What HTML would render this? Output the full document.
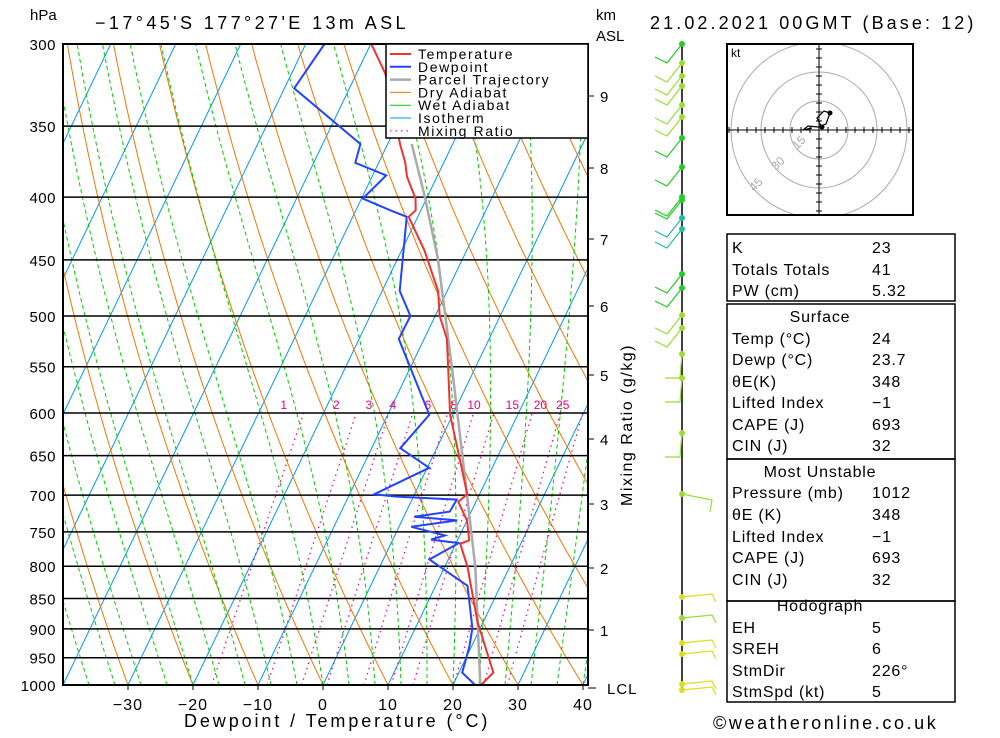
<!DOCTYPE html>
<html><head><meta charset="utf-8">
<style>
body{margin:0;background:#fff;width:1000px;height:733px;overflow:hidden;font-family:"Liberation Sans",sans-serif}
svg text{font-family:"Liberation Sans",sans-serif}
</style></head>
<body>
<svg id="s" width="1000" height="733" viewBox="0 0 1000 733" xmlns="http://www.w3.org/2000/svg">
<defs><clipPath id="pc"><rect x="63" y="44" width="525" height="641"/></clipPath>
<clipPath id="hc"><rect x="727" y="44" width="186" height="171"/></clipPath></defs>
<text x="30" y="20" font-size="15">hPa</text>
<text x="95" y="29" font-size="18" letter-spacing="3.4">−17°45'S 177°27'E 13m ASL</text>
<text x="596" y="20" font-size="15">km</text>
<text x="596" y="41" font-size="15">ASL</text>
<text x="650" y="29" font-size="18" letter-spacing="3.1">21.02.2021 00GMT (Base: 12)</text>
<g id="plot" clip-path="url(#pc)"></g>
<g id="axes"></g>
<rect x="63" y="44" width="525" height="641" fill="none" stroke="#000" stroke-width="2"/>
<g id="legend"></g>
<text x="184" y="727" font-size="18" letter-spacing="2.9">Dewpoint / Temperature (°C)</text>
<text x="632" y="425" font-size="16" letter-spacing="1.5" transform="rotate(-90 632 425)" text-anchor="middle">Mixing Ratio (g/kg)</text>
<text x="713" y="729" font-size="18" letter-spacing="2.6">©weatheronline.co.uk</text>
<g id="wind"></g>
<g id="hodo"></g>
<g id="tbl"></g>
</svg>
<script>
// ---- data ----
const tempP=[1000,977,888,801,767,762,734,709,699,657,602,552,522,500,477,442,415,410,401,385,375,362,340,317,300];
const tempT=[24.3,25.3,19.1,13.5,10.7,11.8,10.0,7.3,8.1,4.6,-0.4,-4.1,-6.5,-9.3,-11.4,-16.5,-21.4,-20.8,-21.7,-24.6,-25.9,-28.1,-31.5,-35.6,-39.9];
const dewP=[1000,977,931,899,830,790,766,761,755,743,734,729,722,706,702,699,665,641,602,522,500,477,415,410,401,384,375,362,326,300];
const dewT=[23.4,20.5,19.7,18.8,14.9,7.1,10.4,5.9,7.7,1.9,8.5,1.6,6.7,6.9,-2.6,-6.2,0.3,-5.6,-3.6,-13.9,-13.8,-17.3,-21.7,-24.7,-29.8,-27.9,-33.6,-34.2,-48.5,-47.1];
const parP=[1000,801,684,552,449,399,362];
const parT=[24.2,14.7,7.0,-3.5,-13.8,-20.5,-26.3];
const pTicks=[300,350,400,450,500,550,600,650,700,750,800,850,900,950,1000];
const tTicks=[-30,-20,-10,0,10,20,30,40];
const mixW=[1,2,3,4,6,8,10,15,20,25];
const kmTicks=[1,2,3,4,5,6,7,8,9];
const kmY=[630,568,504,439,375,306,239,168,96];
// ---- axes ----
const NS='http://www.w3.org/2000/svg';
const yP=p=>685-Math.log(1000/p)/Math.log(1000/300)*641;
const xT=(T,p)=>323+6.5*T+0.48*(685-yP(p));
function mk(tag,at,parent){const e=document.createElementNS(NS,tag);for(const k in at)e.setAttribute(k,at[k]);parent.appendChild(e);return e;}
const plot=document.getElementById('plot'),axes=document.getElementById('axes');
function poly(pts,stroke,w,dash,parent,name){
  const e=mk('polyline',{points:pts.map(q=>q[0].toFixed(1)+','+q[1].toFixed(1)).join(' '),fill:'none',stroke:stroke,'stroke-width':w},parent);
  if(dash)e.setAttribute('stroke-dasharray',dash);
  
  
  return e;}
for(let T=-110;T<=40;T+=10){poly([[xT(T,1000),yP(1000)],[xT(T,300),yP(300)]],'#0099ee',1,null,plot,'isotherm');}
for(let th=-30;th<=170;th+=10){const pts=[];for(let p=1000;p>=295;p-=10){const T=(th+273.15)*Math.pow(p/1000,0.286)-273.15;pts.push([xT(T,p),yP(p)]);}poly(pts,'#ee7700',1,null,plot,'dry-adiabat');}
function es(T){return 6.112*Math.exp(17.67*T/(T+243.5));}
for(let tw=-36;tw<=40;tw+=4){let T=tw+273.15;const pts=[];for(let p=1000;p>=295;p-=2){const Tc=T-273.15;pts.push([xT(Tc,p),yP(p)]);const e=es(Tc);const rs=0.622*e/(p-e);const Rd=287,cp=1004,L=2.5e6;const dTdp=(1/p)*(Rd*T+L*rs)/(cp+L*L*rs*0.622/(Rd*T*T));T-=dTdp*2;}poly(pts,'#00cc00',1,'4,3',plot,'wet-adiabat');}
mixW.forEach(w=>{const pts=[];for(let p=1000;p>=600;p-=10){const e=w*p/(622+w);const l=Math.log(e/6.112);const T=243.5*l/(17.67-l);pts.push([xT(T,p),yP(p)]);}poly(pts,'#ee0088',1.2,'1.5,4',plot,'mixing-ratio-line');
  const t=mk('text',{x:pts[pts.length-1][0]-20,y:409,'font-size':12,fill:'#ee0088','text-anchor':'middle'},plot);t.textContent=w;
  
  });
pTicks.forEach(p=>{const y=yP(p);const l=mk('line',{x1:63,x2:588,y1:y,y2:y,stroke:'#000','stroke-width':1.5},plot);
  
  
  const t=mk('text',{x:56,y:y+6,'font-size':15,'text-anchor':'end','letter-spacing':0.5},axes);t.textContent=p;
  
  });
tTicks.forEach(T=>{const x=xT(T,1000);mk('line',{x1:x,x2:x,y1:685,y2:690,stroke:'#000'},axes);const t=mk('text',{x:x,y:710,'font-size':16,'text-anchor':'middle','letter-spacing':1},axes);t.textContent=T<0?'−'+(-T):T;
  
  });
kmTicks.forEach((k,i)=>{mk('line',{x1:588,x2:594,y1:kmY[i],y2:kmY[i],stroke:'#000'},axes);const t=mk('text',{x:600,y:kmY[i]+6,'font-size':15},axes);t.textContent=k;
  
  });
mk('line',{x1:588,x2:596,y1:688,y2:688,stroke:'#000'},axes);
{const t=mk('text',{x:607,y:694,'font-size':15,'letter-spacing':1},axes);t.textContent='LCL';}
poly(parP.map((p,i)=>[xT(parT[i],p),yP(p)]),'#aaaaaa',2.5,null,plot,'parcel-trajectory');
poly(dewP.map((p,i)=>[xT(dewT[i],p),yP(p)]),'#2244ff',2,null,plot,'dewpoint-line');
poly(tempP.map((p,i)=>[xT(tempT[i],p),yP(p)]),'#ee3333',2,null,plot,'temperature-line');
const lg=document.getElementById('legend');
mk('rect',{x:386,y:44,width:202,height:94,fill:'#fff',stroke:'#000','stroke-width':1.5},lg);
[['Temperature','#ee3333',2,null],['Dewpoint','#2244ff',2,null],['Parcel Trajectory','#aaaaaa',2.5,null],['Dry Adiabat','#ee7700',1,null],['Wet Adiabat','#00cc00',1,null],['Isotherm','#0099ee',1,null],['Mixing Ratio','#ee0088',1.2,'1.5,4']].forEach((r,i)=>{const y=54+i*12.8;const l=mk('line',{x1:390,x2:411,y1:y,y2:y,stroke:r[1],'stroke-width':r[2]},lg);if(r[3])l.setAttribute('stroke-dasharray',r[3]);
  const t=mk('text',{x:418,y:y+5,'font-size':14,'letter-spacing':1.6},lg);t.textContent=r[0];
  
  });
const wd=document.getElementById('wind');
mk('line',{x1:682,x2:682,y1:44,y2:692,stroke:'#000','stroke-width':1.5},wd);
const barbY=[44,63,76,86,105,117,138,167,197,200,218,229,274,288,315,328,354,378,433,494,597,618,643,654,684,690];
const barbC=['#22cc22','#99dd33','#99dd33','#99dd33','#99dd33','#99dd33','#22cc22','#22cc22','#22cc22','#22cc22','#22bbaa','#22bbaa','#22cc22','#22cc22','#99dd33','#99dd33','#99dd33','#99dd33','#99dd33','#99dd33','#dddd22','#99dd33','#dddd22','#dddd22','#dddd22','#dddd22'];
barbY.forEach((y,i)=>{const c=barbC[i];let pts;
  if(y<340)pts=[[682,y],[667,y+19],[655,y+13]];
  else if(y<450)pts=[[682,y],[680,y+24],[665,y+24]];
  else if(y<520)pts=[[682,y],[712,y+6],[710,y+18]];
  else pts=[[682,y],[712,y-3],[716,y+5]];
  poly(pts,c,1.2,null,wd,'wind-barb');
  const d=mk('circle',{cx:682,cy:y,r:3,fill:c},wd);
  
  });
const hd=document.getElementById('hodo');
const hg=mk('g',{'clip-path':'url(#hc)'},hd);
[29,58,88].forEach(r=>mk('circle',{cx:819,cy:130,r:r,fill:'none',stroke:'#aaa'},hg));
mk('line',{x1:727,x2:913,y1:130,y2:130,stroke:'#000'},hg);mk('line',{x1:819,x2:819,y1:44,y2:215,stroke:'#000'},hg);
for(let i=-10;i<=10;i++){if(!i)continue;mk('line',{x1:819+i*9,x2:819+i*9,y1:127,y2:133,stroke:'#000'},hg);mk('line',{x1:816,x2:822,y1:130+i*9,y2:130+i*9,stroke:'#000'},hg);}
[['15',797,150],['30',776,171],['45',754,192]].forEach(a=>{const t=mk('text',{x:a[1],y:a[2],'font-size':12,fill:'#aaa',transform:`rotate(-45 ${a[1]} ${a[2]})`},hg);t.textContent=a[0];});
poly([[822,128],[817,118],[824,111],[830,113],[826,124],[818,127],[808,126],[803,130],[812,128]],'#000',1.2,null,hg,'hodograph-trace');
mk('circle',{cx:830,cy:113,r:2.5},hg);mk('circle',{cx:822,cy:127,r:2.5},hg);
mk('rect',{x:727,y:44,width:186,height:171,fill:'none',stroke:'#000','stroke-width':2},hd);
{const t=mk('text',{x:731,y:57,'font-size':12},hd);t.textContent='kt';}
const tb=document.getElementById('tbl');
function box(y1,y2){mk('rect',{x:727,y:y1,width:228,height:y2-y1,fill:'none',stroke:'#000','stroke-width':1.5},tb);}
box(234,301);box(304,459);box(459,601);box(601,702);
function row(a,b,y){const t=mk('text',{x:732,y:y+6,'font-size':16,'letter-spacing':0.8},tb);t.textContent=a;
  
  
  const v=mk('text',{x:872,y:y+6,'font-size':16,'letter-spacing':0.8},tb);v.textContent=b;
  
  }
function head(a,y){const t=mk('text',{x:820,y:y+6,'font-size':16,'text-anchor':'middle','letter-spacing':0.8},tb);t.textContent=a;
  
  }
row('K','23',247);row('Totals Totals','41',269);row('PW (cm)','5.32',290);
head('Surface',316);row('Temp (°C)','24',338);row('Dewp (°C)','23.7',359);row('θE(K)','348',381);row('Lifted Index','−1',402);row('CAPE (J)','693',424);row('CIN (J)','32',445);
head('Most Unstable',471);row('Pressure (mb)','1012',492);row('θE (K)','348',514);row('Lifted Index','−1',536);row('CAPE (J)','693',557);row('CIN (J)','32',579);
head('Hodograph',605);row('EH','5',627);row('SREH','6',648);row('StmDir','226°',670);row('StmSpd (kt)','5',691);
</script>
</body></html>
